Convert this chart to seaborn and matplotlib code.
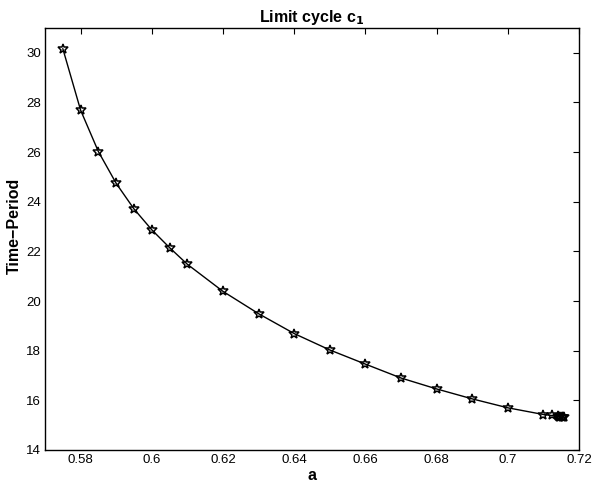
import matplotlib
matplotlib.use("Agg")
import matplotlib.pyplot as plt
import seaborn as sns
import pandas as pd

# Bifurcation parameter and period of limit cycle c1
a_values = [0.575, 0.58, 0.585, 0.59, 0.595, 0.60, 0.605, 0.61, 0.62, 0.63,
            0.64, 0.65, 0.66, 0.67, 0.68, 0.69, 0.70, 0.71, 0.7123,
            0.7140, 0.7145, 0.7148, 0.7151, 0.7154, 0.7157]
periods = [30.17, 27.69, 26.02, 24.74, 23.71, 22.87, 22.15, 21.48, 20.39, 19.49,
           18.69, 18.03, 17.46, 16.90, 16.46, 16.06, 15.70, 15.43, 15.39,
           15.35, 15.34, 15.33, 15.33, 15.32, 15.32]

x_ticks = [0.58, 0.60, 0.62, 0.64, 0.66, 0.68, 0.70, 0.72]
x_tick_labels = ["0.58", "0.6", "0.62", "0.64", "0.66", "0.68", "0.7", "0.72"]
y_ticks = [14, 16, 18, 20, 22, 24, 26, 28, 30]

df = pd.DataFrame({"a": a_values, "period": periods})

sns.set_theme(style="white")
plt.rcParams["font.family"] = ["Liberation Sans", "DejaVu Sans"]
plt.rcParams["text.color"] = "black"
plt.rcParams["axes.labelcolor"] = "black"

fig = plt.figure(figsize=(6.03, 4.84), dpi=100)
ax = fig.add_axes([45 / 603, 34 / 484, 534 / 603, 422 / 484])

sns.lineplot(data=df, x="a", y="period", ax=ax, color="black", linewidth=1.0,
             marker="*", markersize=7, markerfacecolor="none",
             markeredgecolor="black", markeredgewidth=1.1, sort=False)

ax.set_xlim(0.57, 0.72)
ax.set_ylim(14, 31)
ax.set_xticks(x_ticks)
ax.set_xticklabels(x_tick_labels)
ax.set_yticks(y_ticks)
ax.tick_params(direction="in", length=4, width=0.8, top=True, right=True,
               labelsize=9.5, colors="black", pad=3)
for side in ax.spines.values():
    side.set_color("black")
    side.set_linewidth(1.0)

ax.set_xlabel("a", fontsize=11.5, fontweight="bold", labelpad=1, color="black")
ax.set_ylabel("Time\u2212Period", fontsize=11.5, fontweight="bold", color="black")
ax.yaxis.set_label_coords(-0.043, 0.53)
ax.set_title("Limit cycle c$_\\mathbf{1}$", fontsize=11.5, fontweight="bold",
             pad=4, color="black")

fig.savefig("out.png", dpi=100, facecolor="white")
